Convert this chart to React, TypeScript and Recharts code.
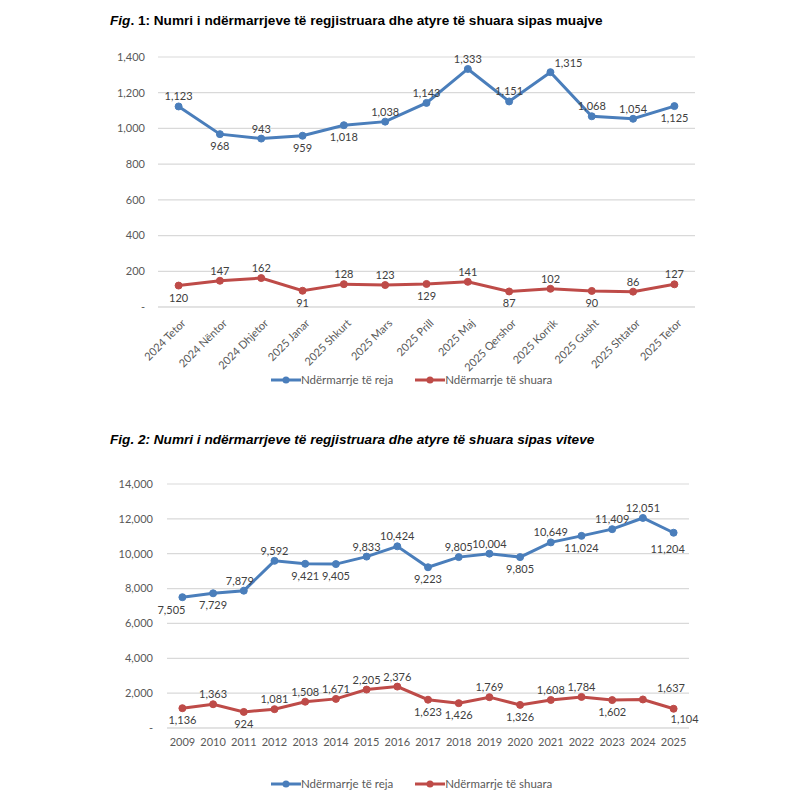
import React from "react";
import {
  LineChart,
  Line,
  XAxis,
  YAxis,
  CartesianGrid,
  LabelList,
} from "recharts";

// Fig. 1 – monthly
const months = [
  "2024 Tetor",
  "2024 Nëntor",
  "2024 Dhjetor",
  "2025 Janar",
  "2025 Shkurt",
  "2025 Mars",
  "2025 Prill",
  "2025 Maj",
  "2025 Qershor",
  "2025 Korrik",
  "2025 Gusht",
  "2025 Shtator",
  "2025 Tetor",
];
const monthNew = [1123, 968, 943, 959, 1018, 1038, 1143, 1333, 1151, 1315, 1068, 1054, 1125];
const monthClosed = [120, 147, 162, 91, 128, 123, 129, 141, 87, 102, 90, 86, 127];
const monthTicks = [0, 200, 400, 600, 800, 1000, 1200, 1400];

// Fig. 2 – yearly
const years = [
  "2009", "2010", "2011", "2012", "2013", "2014", "2015", "2016", "2017",
  "2018", "2019", "2020", "2021", "2022", "2023", "2024", "2025",
];
const yearNew = [7505, 7729, 7879, 9592, 9421, 9405, 9833, 10424, 9223, 9805, 10004, 9805, 10649, 11024, 11409, 12051, 11204];
const yearClosed = [1136, 1363, 924, 1081, 1508, 1671, 2205, 2376, 1623, 1426, 1769, 1326, 1608, 1784, 1602, 1637, 1104];
const yearTicks = [0, 2000, 4000, 6000, 8000, 10000, 12000, 14000];

// where each data label sits relative to its point
const monthNewPos = ["t", "b", "t", "b", "b", "t", "t", "t", "t", "tr", "t", "t", "b"];
const monthClosedPos = ["b", "t", "t", "b", "t", "t", "b", "t", "b", "t", "b", "t", "t"];
const yearNewPos = ["bl", "b", "tl", "t", "b", "b", "t", "t", "b", "t", "t", "b", "t", "b", "t", "t", "bl2"];
const yearClosedPos = ["b", "t", "b", "t", "t", "t", "t", "t", "b", "b", "t", "b", "t", "t", "b", "tr2", "br"];

const BLUE = "#4a7ebb";
const RED = "#be4b48";
const GRID = "#d9d9d9";
const TICK = "#595959";
const LABEL = "#404040";
const FONT = "Lato, 'Open Sans', sans-serif";

const monthData = months.map((m, i) => ({ name: m, reja: monthNew[i], shuara: monthClosed[i] }));
const yearData = years.map((y, i) => ({ name: y, reja: yearNew[i], shuara: yearClosed[i] }));

const fmt = (v: number) => (v === 0 ? "-" : v.toLocaleString("en-US"));

const offsets: Record<string, [number, number]> = {
  t: [0, -6],
  tl: [-4, -6],
  b: [0, 16],
  tr: [18, -5],
  tr2: [28, -7],
  br: [11, 14],
  bl: [-11, 17],
  bl2: [-6, 20],
};

const makeLabel = (pos: string[]) => (props: any) => {
  const { x, y, value, index } = props;
  const [dx, dy] = offsets[pos[index]] || offsets.t;
  return (
    <text
      x={x + dx}
      y={y + dy}
      textAnchor="middle"
      fontSize={11}
      fontFamily={FONT}
      fill={LABEL}
    >
      {Number(value).toLocaleString("en-US")}
    </text>
  );
};

const RotatedTick = (props: any) => {
  const { x, y, payload } = props;
  return (
    <g transform={`translate(${x + 5},${y + 6})`}>
      <text
        x={0}
        y={0}
        dy={4}
        textAnchor="end"
        transform="rotate(-45)"
        fontSize={11}
        fontFamily={FONT}
        fill={TICK}
      >
        {payload.value}
      </text>
    </g>
  );
};

const LegendRow = ({ top }: { top: number }) => {
  const item = (color: string, text: string) => (
    <div style={{ display: "flex", alignItems: "center", marginRight: 22 }}>
      <svg width={30} height={10}>
        <line x1={0} y1={5} x2={30} y2={5} stroke={color} strokeWidth={3} />
        <circle cx={15} cy={5} r={3.5} fill={color} />
      </svg>
      <span style={{ fontFamily: FONT, fontSize: 11.5, color: TICK }}>{text}</span>
    </div>
  );
  return (
    <div
      style={{
        position: "absolute",
        left: 271,
        top,
        display: "flex",
        alignItems: "center",
        lineHeight: "14px",
      }}
    >
      {item(BLUE, "Ndërmarrje të reja")}
      {item(RED, "Ndërmarrje të shuara")}
    </div>
  );
};

const titleStyle: React.CSSProperties = {
  position: "absolute",
  left: 110,
  fontFamily: "'Liberation Sans', Arial, sans-serif",
  fontWeight: "bold",
  fontSize: 13.6,
  color: "#000",
  whiteSpace: "nowrap",
};

export default function App() {
  return (
    <div
      style={{
        position: "absolute",
        left: 0,
        top: 0,
        width: 787,
        height: 795,
        background: "#fff",
        overflow: "hidden",
      }}
    >
      <div style={{ ...titleStyle, top: 13 }}>
        <i>Fig</i>. 1: Numri i ndërmarrjeve të regjistruara dhe atyre të shuara sipas muajve
      </div>

      <div style={{ position: "absolute", left: 0, top: 40 }}>
        <LineChart
          width={787}
          height={340}
          data={monthData}
          margin={{ top: 17, right: 92, left: 0, bottom: 0 }}
        >
          <CartesianGrid vertical={false} stroke={GRID} strokeWidth={1.2} />
          <XAxis
            dataKey="name"
            type="category"
            interval={0}
            padding={{ left: 20.6, right: 20.6 }}
            height={73}
            tickLine={false}
            axisLine={{ stroke: GRID }}
            tick={<RotatedTick />}
          />
          <YAxis
            width={158}
            domain={[0, 1400]}
            ticks={monthTicks}
            interval={0}
            axisLine={false}
            tickLine={false}
            tickMargin={7}
            tickFormatter={fmt}
            tick={{ fontSize: 11, fontFamily: FONT, fill: TICK }}
          />
          <Line
            dataKey="reja"
            stroke={BLUE}
            strokeWidth={3}
            dot={{ r: 3.5, fill: BLUE, stroke: BLUE, strokeWidth: 1 }}
            isAnimationActive={false}
          >
            <LabelList dataKey="reja" content={makeLabel(monthNewPos)} />
          </Line>
          <Line
            dataKey="shuara"
            stroke={RED}
            strokeWidth={3}
            dot={{ r: 3.5, fill: RED, stroke: RED, strokeWidth: 1 }}
            isAnimationActive={false}
          >
            <LabelList dataKey="shuara" content={makeLabel(monthClosedPos)} />
          </Line>
        </LineChart>
      </div>
      <LegendRow top={373} />

      <div style={{ ...titleStyle, top: 432, fontStyle: "italic" }}>
        Fig. 2: Numri i ndërmarrjeve të regjistruara dhe atyre të shuara sipas viteve
      </div>

      <div style={{ position: "absolute", left: 0, top: 460 }}>
        <LineChart
          width={787}
          height={300}
          data={yearData}
          margin={{ top: 24, right: 98, left: 0, bottom: 0 }}
        >
          <CartesianGrid vertical={false} stroke={GRID} strokeWidth={1.2} />
          <XAxis
            dataKey="name"
            type="category"
            interval={0}
            padding={{ left: 15.4, right: 15.4 }}
            height={32}
            tickLine={false}
            tickMargin={4}
            axisLine={{ stroke: GRID }}
            tick={{ fontSize: 11, fontFamily: FONT, fill: TICK }}
          />
          <YAxis
            width={167}
            domain={[0, 14000]}
            ticks={yearTicks}
            interval={0}
            axisLine={false}
            tickLine={false}
            tickMargin={8}
            tickFormatter={fmt}
            tick={{ fontSize: 11, fontFamily: FONT, fill: TICK }}
          />
          <Line
            dataKey="reja"
            stroke={BLUE}
            strokeWidth={3}
            dot={{ r: 3.5, fill: BLUE, stroke: BLUE, strokeWidth: 1 }}
            isAnimationActive={false}
          >
            <LabelList dataKey="reja" content={makeLabel(yearNewPos)} />
          </Line>
          <Line
            dataKey="shuara"
            stroke={RED}
            strokeWidth={3}
            dot={{ r: 3.5, fill: RED, stroke: RED, strokeWidth: 1 }}
            isAnimationActive={false}
          >
            <LabelList dataKey="shuara" content={makeLabel(yearClosedPos)} />
          </Line>
        </LineChart>
      </div>
      <LegendRow top={777} />
    </div>
  );
}
